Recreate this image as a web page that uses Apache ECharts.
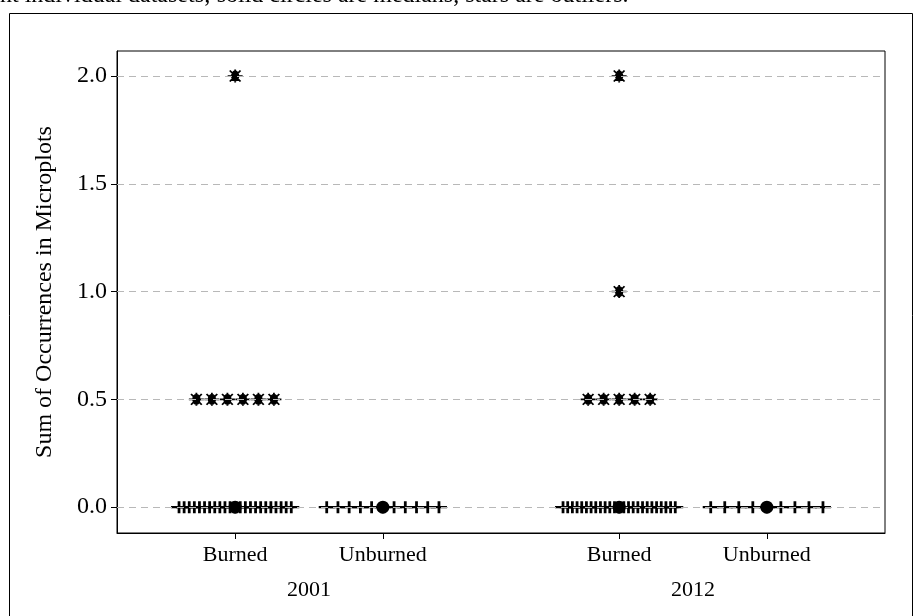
<!DOCTYPE html>
<html>
<head>
<meta charset="utf-8">
<script src="https://cdn.jsdelivr.net/npm/echarts@6/dist/echarts.min.js"></script>
<style>
  html, body { margin: 0; padding: 0; background: #fff; }
  #chart { width: 917px; height: 616px; }
</style>
</head>
<body>
<div id="chart"></div>
<script>
// Treatment groups and where they sit on the horizontal axis
const groupLabels = ['Burned', 'Unburned', 'Burned', 'Unburned'];
const groupPositions = [1, 2, 3.6, 4.6];
const yearLabels = ['2001', '2012'];
const yearPositions = [1.5, 4.1];
const yTicks = [0, 0.5, 1.0, 1.5, 2.0];

// Sum of occurrences per dataset, one array per group
const burned2001 = [0, 0, 0, 0, 0, 0, 0, 0, 0, 0, 0, 0, 0, 0, 0, 0, 0, 0, 0, 0, 0, 0, 0,
                    0.5, 0.5, 0.5, 0.5, 0.5, 0.5, 2];
const unburned2001 = [0, 0, 0, 0, 0, 0, 0, 0, 0, 0, 0];
const burned2012 = [0, 0, 0, 0, 0, 0, 0, 0, 0, 0, 0, 0, 0, 0, 0, 0, 0, 0, 0, 0, 0, 0, 0, 0, 0,
                    0.5, 0.5, 0.5, 0.5, 0.5, 1, 2];
const unburned2012 = [0, 0, 0, 0, 0, 0, 0, 0, 0];

const groupData = [burned2001, unburned2001, burned2012, unburned2012];

// --- statistics -----------------------------------------------------------
function quantile(sorted, p) {
  const h = (sorted.length - 1) * p;
  const lo = Math.floor(h), hi = Math.ceil(h);
  return sorted[lo] + (sorted[hi] - sorted[lo]) * (h - lo);
}

// Spread tied values side by side around the group centre
const MAX_STEP = 0.105;
const MAX_SPAN = 0.76;
function spread(center, values) {
  const counts = new Map();
  values.forEach(v => counts.set(v, (counts.get(v) || 0) + 1));
  const out = [];
  counts.forEach((n, v) => {
    const step = n > 1 ? Math.min(MAX_STEP, MAX_SPAN / (n - 1)) : 0;
    for (let i = 0; i < n; i++) out.push([center + (i - (n - 1) / 2) * step, v]);
  });
  return out;
}

const pointData = [], outlierData = [], medianData = [];
groupData.forEach((vals, gi) => {
  const s = vals.slice().sort((a, b) => a - b);
  const q1 = quantile(s, 0.25), q3 = quantile(s, 0.75), iqr = q3 - q1;
  const lowFence = q1 - 1.5 * iqr, highFence = q3 + 1.5 * iqr;
  const inside = vals.filter(v => v >= lowFence && v <= highFence);
  const outside = vals.filter(v => v < lowFence || v > highFence);
  pointData.push(...spread(groupPositions[gi], inside));
  outlierData.push(...spread(groupPositions[gi], outside));
  medianData.push([groupPositions[gi], quantile(s, 0.5)]);
});

// --- marker shapes --------------------------------------------------------
const plusPath = 'path://M0,6L16,6M8,0L8,12';
const starPath = 'path://M7,1.5A3,4.5 0 1,1 7,10.5A3,4.5 0 1,1 7,1.5ZM0,6L14,6M7,0L7,12M2,1L12,11M12,1L2,11';

const serif = '"Liberation Serif", "Times New Roman", serif';

function nearestLabel(value, positions, labels) {
  let best = 0;
  positions.forEach((p, i) => { if (Math.abs(p - value) < Math.abs(positions[best] - value)) best = i; });
  return labels[best];
}

const chart = echarts.init(document.getElementById('chart'), null, { renderer: 'canvas' });

chart.setOption({
  animation: false,
  backgroundColor: '#fff',
  graphic: [
    {
      type: 'rect',
      shape: { x: 9.5, y: 13.5, width: 903, height: 640 },
      style: { fill: 'none', stroke: '#000', lineWidth: 1 },
      z: 0
    },
    {
      type: 'text',
      left: 0,
      top: -16,
      style: {
        text: 'nt individual datasets; solid circles are medians, stars are outliers.',
        font: '24px ' + serif,
        fill: '#000'
      }
    }
  ],
  grid: {
    left: 117, top: 51, right: 32, bottom: 83,
    show: true, borderColor: '#000', borderWidth: 1, backgroundColor: 'transparent'
  },
  xAxis: [
    {
      type: 'value', min: 0.2, max: 5.4,
      axisLine: { show: true, onZero: false, lineStyle: { color: '#000', width: 1 } },
      axisTick: { show: true, inside: false, length: 6, customValues: groupPositions, lineStyle: { color: '#000' } },
      axisLabel: {
        customValues: groupPositions,
        formatter: v => nearestLabel(v, groupPositions, groupLabels),
        margin: 11, fontFamily: serif, fontSize: 22, color: '#000'
      },
      splitLine: { show: false }
    },
    {
      type: 'value', min: 0.2, max: 5.4, position: 'bottom',
      axisLine: { show: false },
      axisTick: { show: false },
      axisLabel: {
        customValues: yearPositions,
        formatter: v => nearestLabel(v, yearPositions, yearLabels),
        margin: 46, fontFamily: serif, fontSize: 22, color: '#000'
      },
      splitLine: { show: false }
    }
  ],
  yAxis: {
    type: 'value', min: -0.12, max: 2.116,
    name: 'Sum of Occurrences in Microplots',
    nameLocation: 'middle', nameGap: 60, nameRotate: 90,
    nameTextStyle: { fontFamily: serif, fontSize: 24, color: '#000' },
    axisLine: { show: true, onZero: false, lineStyle: { color: '#000', width: 1 } },
    axisTick: { show: true, inside: false, length: 6, customValues: yTicks, lineStyle: { color: '#000' } },
    axisLabel: {
      customValues: yTicks,
      formatter: v => v.toFixed(1),
      margin: 10, fontFamily: serif, fontSize: 24, color: '#000'
    },
    splitLine: { show: false }
  },
  series: [
    {
      name: 'grid lines', type: 'scatter', data: [], z: 1, silent: true,
      markLine: {
        silent: true, symbol: 'none', label: { show: false },
        lineStyle: { color: '#b8b8b8', width: 1, type: [7, 5] },
        data: yTicks.map(v => ({ yAxis: v }))
      }
    },
    {
      name: 'Datasets', type: 'scatter', data: pointData, z: 3,
      symbol: plusPath, symbolSize: [16, 12],
      itemStyle: { color: '#000', borderColor: '#000', borderWidth: 2.4, opacity: 1 }
    },
    {
      name: 'Outliers', type: 'scatter', data: outlierData, z: 4,
      symbol: starPath, symbolSize: [15, 13],
      itemStyle: { color: '#000', borderColor: '#000', borderWidth: 1.7, opacity: 1 }
    },
    {
      name: 'Medians', type: 'scatter', data: medianData, z: 5,
      symbol: 'circle', symbolSize: 13,
      itemStyle: { color: '#000', opacity: 1 }
    }
  ]
});
</script>
</body>
</html>
